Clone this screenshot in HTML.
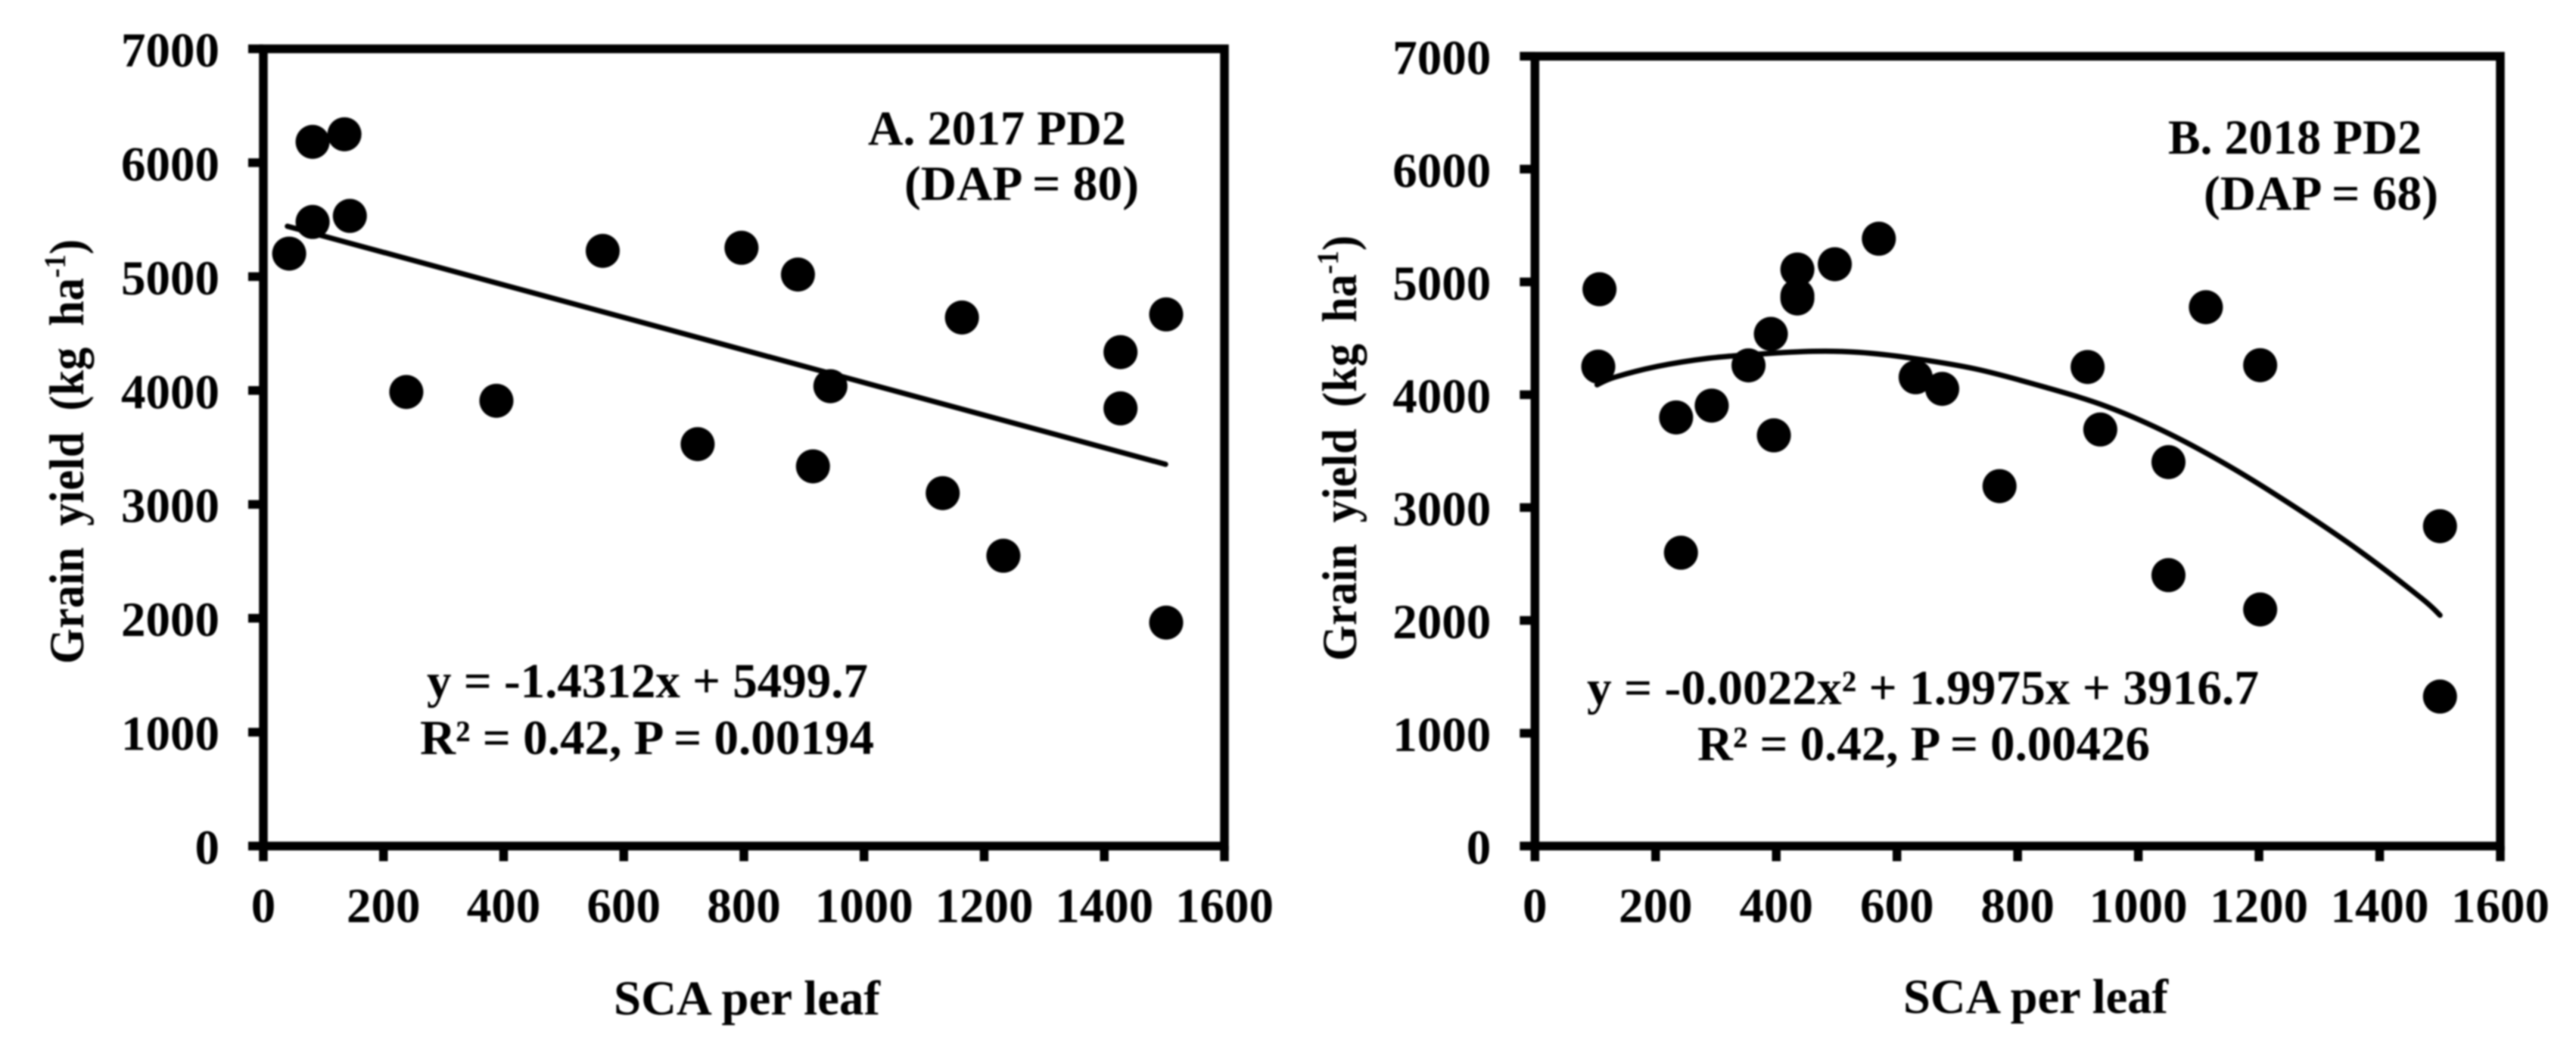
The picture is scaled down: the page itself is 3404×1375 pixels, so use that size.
<!DOCTYPE html>
<html lang="en">
<head>
<meta charset="utf-8">
<title>Grain yield vs SCA per leaf</title>
<style>
html,body{margin:0;padding:0;background:#fff;width:3404px;height:1375px;overflow:hidden}
svg{display:block;filter:blur(1px)}
text{font-family:"Liberation Serif",serif;font-weight:bold;fill:#000}
</style>
</head>
<body>
<svg id="chart" xmlns="http://www.w3.org/2000/svg" width="3404" height="1375" viewBox="0 0 3404 1375">
  <g id="panel-a">
    <text x="1147" y="191" font-size="65" textLength="341" lengthAdjust="spacingAndGlyphs">A. 2017 PD2</text>
    <text x="1195" y="264" font-size="65" textLength="310" lengthAdjust="spacingAndGlyphs">(DAP = 80)</text>
    <text x="564" y="921" font-size="65" textLength="583" lengthAdjust="spacingAndGlyphs">y = -1.4312x + 5499.7</text>
    <text x="555" y="996" font-size="65" textLength="600" lengthAdjust="spacingAndGlyphs">R² = 0.42, P = 0.00194</text>
    <text x="811" y="1340" font-size="65" textLength="352" lengthAdjust="spacingAndGlyphs">SCA per leaf</text>
    <text transform="translate(110,877) rotate(-90)" font-size="65" word-spacing="14" textLength="561" lengthAdjust="spacingAndGlyphs">Grain yield (kg ha<tspan font-size="40" dy="-24">-1</tspan><tspan dy="24">)</tspan></text>
  </g>
  <g id="panel-b">
    <text x="2865" y="203" font-size="65" textLength="335" lengthAdjust="spacingAndGlyphs">B. 2018 PD2</text>
    <text x="2912" y="277" font-size="65" textLength="310" lengthAdjust="spacingAndGlyphs">(DAP = 68)</text>
    <text x="2097" y="930" font-size="65" textLength="888" lengthAdjust="spacingAndGlyphs">y = -0.0022x² + 1.9975x + 3916.7</text>
    <text x="2243" y="1004" font-size="65" textLength="598" lengthAdjust="spacingAndGlyphs">R² = 0.42, P = 0.00426</text>
    <text x="2515" y="1338" font-size="65" textLength="350" lengthAdjust="spacingAndGlyphs">SCA per leaf</text>
    <text transform="translate(1792,873) rotate(-90)" font-size="65" word-spacing="14" textLength="562" lengthAdjust="spacingAndGlyphs">Grain yield (kg ha<tspan font-size="40" dy="-24">-1</tspan><tspan dy="24">)</tspan></text>
  </g>
</svg>
<script>
const xTickValues = [0, 200, 400, 600, 800, 1000, 1200, 1400, 1600];
const yTickValues = [0, 1000, 2000, 3000, 4000, 5000, 6000, 7000];

const panelAScaScatter = [43, 82, 135, 82, 144, 565, 796, 890, 238, 388, 723, 915, 944, 1163, 1131, 1232, 1427, 1427, 1503, 1503];
const panelAYield = [5202, 6183, 6250, 5480, 5533, 5226, 5253, 5018, 3987, 3910, 3529, 3334, 4038, 4641, 3099, 2549, 4337, 3843, 4668, 1962];
const panelATrendSca = [40, 1502];
const panelATrendYield = [5442, 3352];

const panelBScaScatter = [107, 105, 234, 242, 293, 354, 391, 396, 435, 435, 435, 497, 570, 631, 675, 770, 916, 937, 1050, 1050, 1112, 1202, 1202, 1500, 1500];
const panelBYield = [4935, 4249, 3799, 2600, 3904, 4260, 4539, 3640, 5110, 4877, 4853, 5157, 5383, 4155, 4052, 3190, 4246, 3692, 3403, 2401, 4776, 4262, 2097, 2835, 1325];
const panelBTrendSca = [103, 132, 203, 286, 370, 462, 537, 621, 730, 842, 947, 1052, 1156, 1260, 1365, 1469, 1500];
const panelBTrendYield = [4088, 4155, 4251, 4322, 4360, 4385, 4376, 4327, 4229, 4072, 3897, 3652, 3350, 3003, 2622, 2198, 2046];

const SVG_NS = 'http://www.w3.org/2000/svg';

function make(tag, attrs, parent) {
  const el = document.createElementNS(SVG_NS, tag);
  for (const k in attrs) el.setAttribute(k, attrs[k]);
  parent.appendChild(el);
  return el;
}

function smoothPath(pts) {
  let d = 'M' + pts[0][0] + ' ' + pts[0][1];
  for (let i = 0; i < pts.length - 1; i++) {
    const p0 = pts[Math.max(i - 1, 0)];
    const p1 = pts[i];
    const p2 = pts[i + 1];
    const p3 = pts[Math.min(i + 2, pts.length - 1)];
    const c1x = p1[0] + (p2[0] - p0[0]) / 6;
    const c1y = p1[1] + (p2[1] - p0[1]) / 6;
    const c2x = p2[0] - (p3[0] - p1[0]) / 6;
    const c2y = p2[1] - (p3[1] - p1[1]) / 6;
    d += ' C' + c1x + ' ' + c1y + ' ' + c2x + ' ' + c2y + ' ' + p2[0] + ' ' + p2[1];
  }
  return d;
}

function drawPanel(parent, box, scatterX, scatterY, trendX, trendY) {
  const xScale = v => box.left + (v / 1600) * (box.right - box.left);
  const yScale = v => box.bottom - (v / 7000) * (box.bottom - box.top);
  const AXIS = 11.5;
  const LABEL = 65;

  const frame = make('rect', {x: box.left, y: box.top, width: box.right - box.left, height: box.bottom - box.top, fill: 'none', stroke: '#000', 'stroke-width': AXIS}, parent);
  
  

  xTickValues.forEach(v => {
    const tick = make('line', {x1: xScale(v), x2: xScale(v), y1: box.bottom, y2: box.bottom + 20, stroke: '#000', 'stroke-width': AXIS}, parent);
    
    
    const label = make('text', {x: xScale(v), y: box.bottom + 100.5, 'font-size': LABEL, 'text-anchor': 'middle'}, parent);
    label.textContent = v;
    
    
  });

  yTickValues.forEach(v => {
    const tick = make('line', {x1: box.left - 20, x2: box.left, y1: yScale(v), y2: yScale(v), stroke: '#000', 'stroke-width': AXIS}, parent);
    
    
    const label = make('text', {x: box.left - 58, y: yScale(v) + 23.5, 'font-size': LABEL, 'text-anchor': 'end'}, parent);
    label.textContent = v;
    
    
  });

  scatterX.forEach((v, i) => {
    const dot = make('circle', {cx: xScale(v), cy: yScale(scatterY[i]), r: 22.5, fill: '#000'}, parent);
    
    
  });

  const pts = trendX.map((v, i) => [xScale(v), yScale(trendY[i])]);
  const trend = make('path', {d: smoothPath(pts), fill: 'none', stroke: '#000', 'stroke-width': 7, 'stroke-linecap': 'round', 'stroke-linejoin': 'round'}, parent);
  
  
}

drawPanel(document.getElementById('panel-a'), {left: 348, right: 1618, top: 64.5, bottom: 1117.5}, panelAScaScatter, panelAYield, panelATrendSca, panelATrendYield);
drawPanel(document.getElementById('panel-b'), {left: 2028.3, right: 3304, top: 74.3, bottom: 1117.5}, panelBScaScatter, panelBYield, panelBTrendSca, panelBTrendYield);
</script>
</body>
</html>
